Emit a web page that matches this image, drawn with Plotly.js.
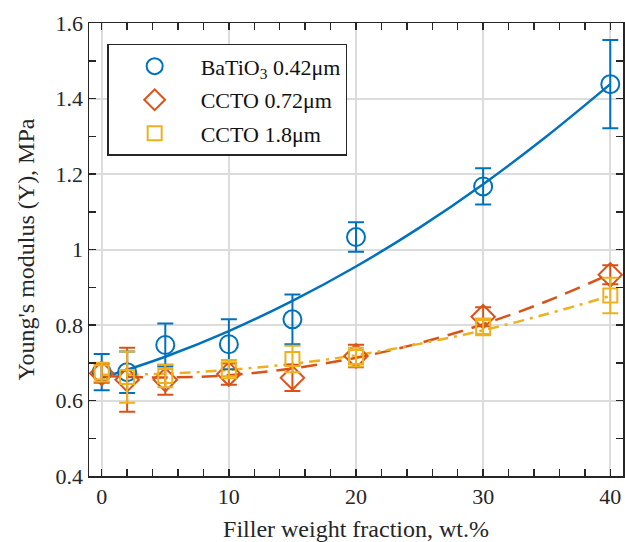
<!DOCTYPE html>
<html>
<head>
<meta charset="utf-8">
<script src="https://cdn.plot.ly/plotly-3.0.1.min.js"></script>
<style>body{margin:0;padding:0;background:#fff}#chart{width:625px;height:542px}</style>
</head>
<body>
<div id="chart"></div>
<script>
// Measured data (filler wt.% vs Young's modulus, MPa)
const xData = [0, 2, 5, 10, 15, 20, 30, 40];

const batioY   = [0.675, 0.675, 0.747, 0.749, 0.815, 1.033, 1.167, 1.438];
const batioErr = [0.048, 0.055, 0.057, 0.066, 0.066, 0.039, 0.048, 0.117];

const ccto072Y   = [0.672, 0.655, 0.655, 0.670, 0.660, 0.718, 0.822, 0.933];
const ccto072Err = [0.025, 0.085, 0.040, 0.028, 0.035, 0.030, 0.025, 0.025];

const ccto18Y   = [0.675, 0.662, 0.665, 0.683, 0.710, 0.715, 0.795, 0.878];
const ccto18Err = [0.025, 0.068, 0.030, 0.024, 0.035, 0.025, 0.022, 0.047];

// Fitted curves
const fitX = [0, 5, 10, 15, 20, 25, 30, 35, 40];
const batioFit   = [0.660, 0.716, 0.784, 0.864, 0.955, 1.058, 1.173, 1.300, 1.438];
const ccto072Fit = [0.665, 0.661, 0.667, 0.685, 0.713, 0.752, 0.802, 0.863, 0.935];
const ccto18Fit  = [0.668, 0.671, 0.681, 0.697, 0.720, 0.750, 0.786, 0.829, 0.877];

const names = ['BaTiO<sub>3</sub> 0.42μm', 'CCTO 0.72μm', 'CCTO 1.8μm'];
const xTickVals = [0, 10, 20, 30, 40];
const yTickVals = [0.4, 0.6, 0.8, 1, 1.2, 1.4, 1.6];
const yTickText = ['0.4', '0.6', '0.8', '1', '1.2', '1.4', '1.6'];

const BLUE = '#0072BD', ORANGE = '#D95319', YELLOW = '#EDB120';
const FONT = 'Liberation Serif, DejaVu Serif, serif';

function dataTrace(y, err, name, color, symbol, size, group) {
  return {
    x: xData, y: y, name: name, type: 'scatter', mode: 'markers', legendgroup: group,
    marker: {symbol: symbol, size: size, color: color, line: {color: color, width: 2}},
    error_y: {type: 'data', array: err, visible: true, color: color, thickness: 2, width: 8}
  };
}
function fitTrace(y, color, dash) {
  return {
    x: fitX, y: y, type: 'scatter', mode: 'lines', showlegend: false, hoverinfo: 'skip',
    line: {color: color, width: 2.5, dash: dash, shape: 'spline'}
  };
}

const traces = [
  fitTrace(batioFit, BLUE, 'solid'),
  fitTrace(ccto072Fit, ORANGE, '16px,9px'),
  fitTrace(ccto18Fit, YELLOW, '11px,6px,3px,6px'),
  dataTrace(batioY, batioErr, names[0], BLUE, 'circle-open', 18, 'a'),
  dataTrace(ccto072Y, ccto072Err, names[1], ORANGE, 'diamond-open', 18, 'b'),
  dataTrace(ccto18Y, ccto18Err, names[2], YELLOW, 'square-open', 14, 'c')
];

const axisCommon = {
  showline: true, linecolor: '#262626', linewidth: 1.5, mirror: 'ticks',
  ticks: 'inside', ticklen: 7, tickwidth: 1.5, tickcolor: '#262626',
  showgrid: true, gridcolor: '#dcdcdc', gridwidth: 2, zeroline: false,
  tickfont: {family: FONT, size: 22, color: '#262626'}
};

const layout = {
  width: 625, height: 542,
  margin: {l: 89, r: 2, t: 23, b: 66},
  paper_bgcolor: '#fff', plot_bgcolor: '#fff',
  font: {family: FONT, color: '#262626'},
  xaxis: Object.assign({}, axisCommon, {
    range: [-1, 41], tickvals: xTickVals,
    minor: {ticks: 'inside', dtick: 2, tick0: 0, ticklen: 7, tickwidth: 1.5, tickcolor: '#262626', showgrid: false},
    title: {text: 'Filler weight fraction, wt.%', font: {family: FONT, size: 24, color: '#262626'}, standoff: 12}
  }),
  yaxis: Object.assign({}, axisCommon, {
    range: [0.4, 1.6], tickvals: yTickVals, ticktext: yTickText,
    minor: {ticks: 'inside', dtick: 0.1, tick0: 0.4, ticklen: 7, tickwidth: 1.5, tickcolor: '#262626', showgrid: false},
    title: {text: "Young's modulus (Y), MPa", font: {family: FONT, size: 24, color: '#262626'}, standoff: 14}
  }),
  legend: {
    x: 0.034, y: 0.954, xanchor: 'left', yanchor: 'top',
    bgcolor: '#fff', bordercolor: '#262626', borderwidth: 1.5,
    font: {family: FONT, size: 22, color: '#111'},
    itemwidth: 82, tracegroupgap: 2
  },
  showlegend: true
};

Plotly.newPlot('chart', traces, layout, {displayModeBar: false, staticPlot: true});
</script>
</body>
</html>
